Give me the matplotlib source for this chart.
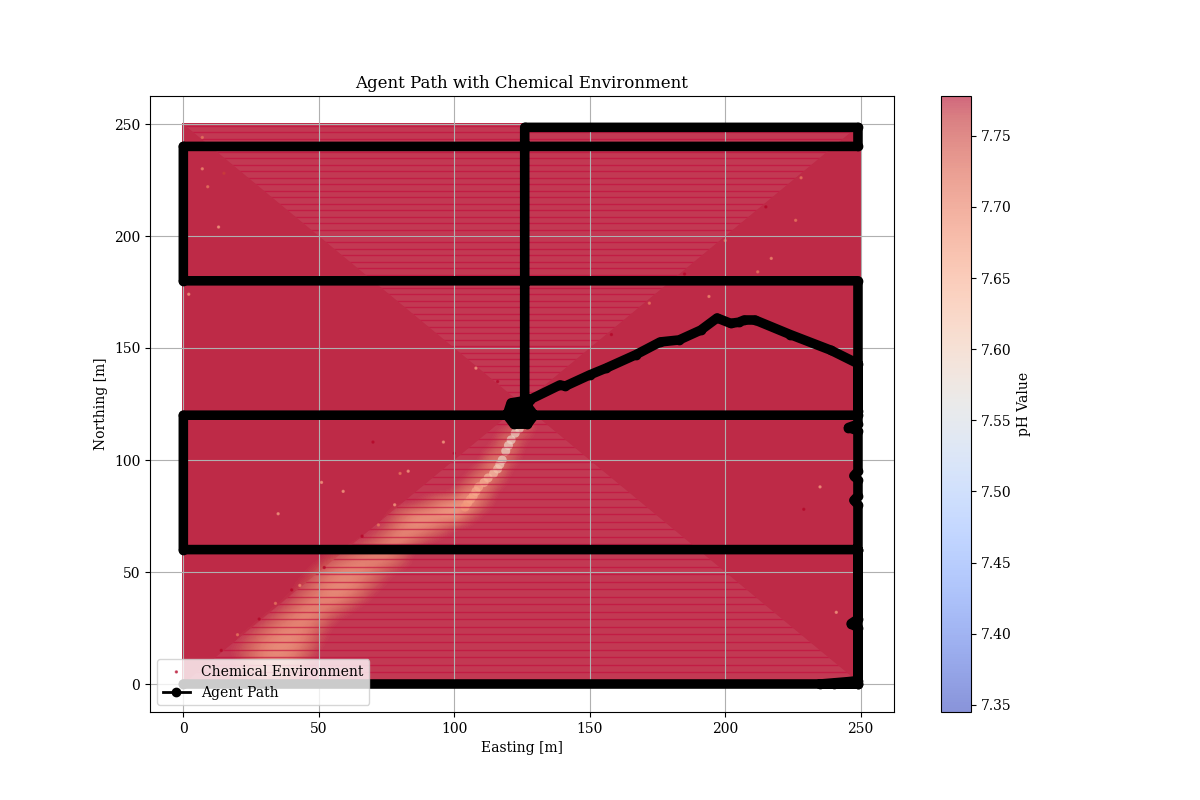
"""
Agent survey path over a chemical (pH) field.
Output: out.png
Values read off the reference chart by eye.
"""

import numpy as np
import matplotlib
matplotlib.use("Agg")
import matplotlib.pyplot as plt
from matplotlib.colors import Normalize
from matplotlib.lines import Line2D
from matplotlib.patches import PathPatch, Rectangle
from matplotlib.path import Path

plt.rcParams["font.family"] = "serif"

PH_MIN = 7.345
PH_MAX = 7.778
B = 7.78   # background seawater pH, everywhere outside the plume

# ---- Plume cells, 5 m spacing: top row is N=120, bottom row N=0 ----
plume_east = [15, 20, 25, 30, 35, 40, 45, 50, 55, 60, 65, 70, 75, 80, 85, 90, 95, 100, 105, 110, 115, 120, 125, 130]
plume_north = [120, 115, 110, 105, 100, 95, 90, 85, 80, 75, 70, 65, 60, 55, 50, 45, 40, 35, 30, 25, 20, 15, 10, 5, 0]
plume_ph = [
    [B, B, B, B, B, B, B, B, B, B, B, B, B, B, B, B, B, B, B, B, B, B, B, B],
    [B, B, B, B, B, B, B, B, B, B, B, B, B, B, B, B, B, B, B, B, B, B, 7.74, B],
    [B, B, B, B, B, B, B, B, B, B, B, B, B, B, B, B, B, B, B, B, B, 7.74, 7.77, B],
    [B, B, B, B, B, B, B, B, B, B, B, B, B, B, B, B, B, B, B, B, 7.77, 7.73, B, B],
    [B, B, B, B, B, B, B, B, B, B, B, B, B, B, B, B, B, B, B, B, 7.72, 7.76, B, B],
    [B, B, B, B, B, B, B, B, B, B, B, B, B, B, B, B, B, B, B, 7.76, 7.72, B, B, B],
    [B, B, B, B, B, B, B, B, B, B, B, B, B, B, B, B, B, B, 7.77, 7.71, 7.76, B, B, B],
    [B, B, B, B, B, B, B, B, B, B, B, B, B, B, B, B, B, B, 7.71, 7.73, B, B, B, B],
    [B, B, B, B, B, B, B, B, B, B, B, B, B, B, B, 7.76, 7.72, 7.70, 7.69, 7.76, B, B, B, B],
    [B, B, B, B, B, B, B, B, B, B, B, B, B, 7.75, 7.71, 7.70, 7.70, 7.69, 7.76, B, B, B, B, B],
    [B, B, B, B, B, B, B, B, B, B, B, B, 7.77, 7.73, 7.71, 7.72, 7.75, B, B, B, B, B, B, B],
    [B, B, B, B, B, B, B, B, B, B, B, 7.77, 7.74, 7.71, 7.74, 7.77, B, B, B, B, B, B, B, B],
    [B, B, B, B, B, B, B, B, B, B, 7.76, 7.74, 7.72, 7.75, B, B, B, B, B, B, B, B, B, B],
    [B, B, B, B, B, B, B, B, 7.76, 7.74, 7.72, 7.72, 7.73, 7.76, B, B, B, B, B, B, B, B, B, B],
    [B, B, B, B, B, B, B, 7.76, 7.73, 7.715, 7.72, 7.74, 7.77, B, B, B, B, B, B, B, B, B, B, B],
    [B, B, B, B, B, B, 7.77, 7.74, 7.72, 7.715, 7.73, 7.76, B, B, B, B, B, B, B, B, B, B, B, B],
    [B, B, B, B, B, B, 7.75, 7.73, 7.71, 7.72, 7.75, B, B, B, B, B, B, B, B, B, B, B, B, B],
    [B, B, B, B, B, 7.76, 7.73, 7.72, 7.73, 7.76, B, B, B, B, B, B, B, B, B, B, B, B, B, B],
    [B, B, B, B, 7.76, 7.73, 7.715, 7.73, 7.77, B, B, B, B, B, B, B, B, B, B, B, B, B, B, B],
    [B, B, B, 7.76, 7.73, 7.72, 7.725, 7.76, B, B, B, B, B, B, B, B, B, B, B, B, B, B, B, B],
    [B, B, 7.76, 7.73, 7.715, 7.71, 7.73, 7.77, B, B, B, B, B, B, B, B, B, B, B, B, B, B, B, B],
    [B, 7.77, 7.75, 7.72, 7.71, 7.72, 7.75, B, B, B, B, B, B, B, B, B, B, B, B, B, B, B, B, B],
    [B, B, 7.75, 7.72, 7.72, 7.73, 7.77, B, B, B, B, B, B, B, B, B, B, B, B, B, B, B, B, B],
    [B, 7.77, 7.76, 7.74, 7.74, 7.76, B, B, B, B, B, B, B, B, B, B, B, B, B, B, B, B, B, B],
    [B, B, B, 7.77, 7.77, B, B, B, B, B, B, B, B, B, B, B, B, B, B, B, B, B, B, B],
]

# ---- Narrow bright core of the plume near the source ----
core_east = [124, 122.5, 121, 120, 119, 117.7, 116.8, 116, 114.5, 112.5, 111, 109, 108, 107, 106, 105, 104]
core_north = [114, 112, 109, 106.5, 104, 100, 98, 96, 94, 92, 90, 88, 86, 84, 82.5, 81, 79]
core_ph = [7.59, 7.59, 7.59, 7.59, 7.59, 7.59, 7.60, 7.61, 7.62, 7.63, 7.64, 7.65, 7.65, 7.65, 7.66, 7.66, 7.67]

# ---- Isolated sample points that stand out from the field ----
speck_east = [229, 7, 7, 13, 15, 9, 235, 241, 226, 217, 212, 194, 35, 51, 59, 70, 2, 80, 83, 78, 96, 100,
              14, 20, 28, 34, 40, 43, 52, 60, 66, 72, 158, 172, 185, 200, 215, 228, 108, 116]
speck_north = [78, 230, 244, 204, 228, 222, 88, 32, 207, 190, 184, 173, 76, 90, 86, 108, 174, 94, 95, 80, 108, 103,
               15, 22, 29, 36, 42, 44, 52, 61, 66, 71, 156, 170, 183, 198, 213, 226, 141, 135]
speck_ph = [7.778, 7.68, 7.70, 7.66, 7.75, 7.70, 7.66, 7.66, 7.70, 7.68, 7.70, 7.68, 7.66, 7.66, 7.66, 7.778, 7.66, 7.70, 7.66, 7.66, 7.66, 7.778,
            7.778, 7.70, 7.778, 7.70, 7.778, 7.68, 7.778, 7.70, 7.778, 7.70, 7.778, 7.70, 7.778, 7.70, 7.778, 7.70, 7.66, 7.778]

# ---- Darker sample rows seen across the two mesh triangles ----
stripe_north = [2.0, 5.3, 8.7, 12.0, 15.4, 18.7, 22.1, 25.4, 28.8, 32.1, 35.5, 38.8, 42.2, 45.5, 48.9, 52.2, 55.6, 58.9,
                62.3, 65.6, 69.0, 72.3, 75.7, 79.0, 82.4, 85.7, 89.1, 92.4, 95.8, 99.1, 102.5, 105.8, 109.2, 112.5, 115.9, 119.2,
                130.4, 133.3, 136.2, 139.1, 142.0, 144.9, 147.8, 150.7, 153.6, 156.5, 159.4, 162.3, 165.2, 168.1, 171.0, 173.9,
                176.8, 179.7, 182.6, 185.5, 188.4, 191.3, 194.2, 197.1, 200.0, 202.9, 205.8, 208.7, 211.6, 214.5, 217.4, 220.3,
                223.2, 226.1, 229.0, 231.9, 234.8, 237.7, 240.6, 243.5, 246.4, 249.3]

# ---- Agent path: lawnmower legs, then plume tracking ----
path_east = [0, 249, 249, 0, 0, 249, 249, 0, 0, 249, 249, 126, 126,
             126, 121, 119.5, 122, 127, 129.5, 127, 123, 125, 126, 128,
             139, 141, 150, 156, 167, 176, 183, 191, 197, 202, 205, 207, 211, 224, 239, 249,
             249, 249, 245.5, 249, 249, 247.5, 249, 249, 247.5, 249, 249, 249, 246.5, 249, 249, 245, 240, 235, 240, 249]
path_north = [0, 0, 60, 60, 120, 120, 180, 180, 240, 240, 248.5, 248.5, 127,
              126.5, 125.5, 120, 116, 116, 120, 124, 122, 119, 122, 127,
              133.5, 133, 138, 141, 147, 152.7, 153.6, 158, 163.4, 161, 161.5, 162.5, 162.5, 156, 149, 143,
              122, 116, 114.5, 113, 95, 93, 91, 84, 82, 80, 60, 29, 27, 25, 1.5, 1, 0.5, 0, 0, 0]

ph_ticks = [7.35, 7.40, 7.45, 7.50, 7.55, 7.60, 7.65, 7.70, 7.75]

# Full 5 m field, with the plume table dropped into it
field = np.full((51, 51), B)
for i, n in enumerate(plume_north):
    for j, e in enumerate(plume_east):
        field[n // 5, e // 5] = plume_ph[i][j]

norm = Normalize(PH_MIN, PH_MAX)

fig, ax = plt.subplots(figsize=(12, 8), dpi=100)

im = ax.imshow(field, origin="lower", extent=(-2.5, 252.5, -2.5, 252.5), cmap="coolwarm",
               norm=norm, alpha=0.85, interpolation="bicubic", zorder=0, aspect="auto")
im.set_clip_path(Rectangle((-0.5, 0), 250.5, 250.5, transform=ax.transData))

# The hourglass of the mesh where the rows do not overlap fully
bow = Path([(0, 0), (250, 0), (125, 125), (250, 250), (0, 250), (125, 125), (0, 0)])
bow_patch = PathPatch(bow, facecolor="white", edgecolor="none", alpha=0.07, zorder=0.5)
ax.add_patch(bow_patch)

ax.scatter(core_east, core_north, c=core_ph, s=42, cmap="coolwarm", norm=norm,
           alpha=0.7, linewidths=0, zorder=0.7)

rows = ax.hlines(stripe_north, 0, 250, color="#c20a3a", linewidth=1.0, alpha=0.6, zorder=1)
rows.set_clip_path(PathPatch(bow, transform=ax.transData))

sc = ax.scatter(speck_east, speck_north, c=speck_ph, s=2, cmap="coolwarm", norm=norm,
                alpha=0.6, label="Chemical Environment", zorder=1)

ax.plot(path_east, path_north, "-o", color="black", linewidth=6.9, markersize=6,
        solid_joinstyle="round", solid_capstyle="round", zorder=2)
path_handle = Line2D([], [], color="black", marker="o", linewidth=2, markersize=6, label="Agent Path")

ax.set_xlim(-12.3, 262.3)
ax.set_ylim(-12.5, 262.5)
ax.set_xlabel("Easting [m]")
ax.set_ylabel("Northing [m]")
ax.set_title("Agent Path with Chemical Environment")
ax.grid(True)
ax.legend(handles=[sc, path_handle], loc="lower left")

cbar = fig.colorbar(sc, ax=ax, label="pH Value")
cbar.set_ticks(ph_ticks)

plt.savefig("out.png", dpi=100)
